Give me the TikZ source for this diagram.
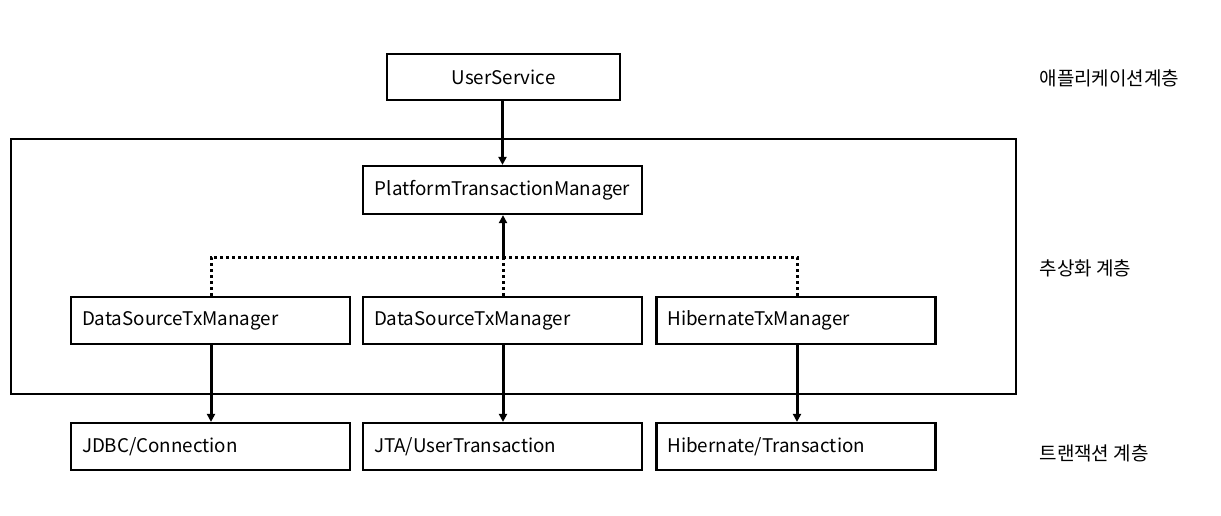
\documentclass[tikz,border=0pt]{standalone}
\usepackage{fontspec}
\setmainfont{Noto Sans CJK KR}
\usetikzlibrary{arrows.meta}
\begin{document}
\begin{tikzpicture}[x=1pt,y=-1pt,
  box/.style={draw,line width=2.2pt,minimum width=279pt,minimum height=47pt,inner sep=0pt,font=\fontsize{18.8}{20}\selectfont},
  lbox/.style={box,text width=257pt,align=left},
  conn/.style={line width=3pt,-{Triangle[length=8pt,width=8pt]}},
  dots/.style={line width=3pt,dash pattern=on 3pt off 3pt},
  layer/.style={anchor=west,font=\fontsize{19}{20}\selectfont}]
\useasboundingbox (0,0) rectangle (1221,515);
\node[draw,line width=2.2pt,minimum width=1005pt,minimum height=255pt,inner sep=0pt] (frame) at (513.5,266.5) {};
\node[box,minimum width=233pt,minimum height=46pt] (us) at (503.5,77) {UserService};
\node[box,minimum height=48pt] (ptm) at (502.5,190) {PlatformTransactionManager};
\node[lbox] (ds1) at (210.5,320.5) {DataSourceTxManager};
\node[lbox] (ds2) at (502.5,320.5) {DataSourceTxManager};
\node[lbox] (hib) at (796,320.5) {HibernateTxManager};
\node[lbox] (jdbc) at (210.5,446.5) {JDBC/Connection};
\node[lbox] (jta) at (502.5,446.5) {JTA/UserTransaction};
\node[lbox] (ht) at (796,446.5) {Hibernate/Transaction};
\coordinate (j) at (503,257);
\draw[conn] (us.south -| ptm.north) -- (ptm.north);
\draw[dots] (ds1.north -| 211,0) |- (j);
\draw[dots] (hib.north -| 797,0) |- (j);
\draw[dots] (ds2.north -| j) -- (j);
\draw[conn] (j) -- (ptm.south -| j);
\draw[conn] (ds1.south -| 211,0) -- (jdbc.north -| 211,0);
\draw[conn] (ds2.south -| 503,0) -- (jta.north -| 503,0);
\draw[conn] (hib.south -| 797,0) -- (ht.north -| 797,0);
\node[layer] (l1) at (1036,78) {애플리케이션계층};
\node[layer] (l2) at (1036,268) {추상화 계층};
\node[layer] (l3) at (1036,453) {트랜잭션 계층};
\end{tikzpicture}
\end{document}
